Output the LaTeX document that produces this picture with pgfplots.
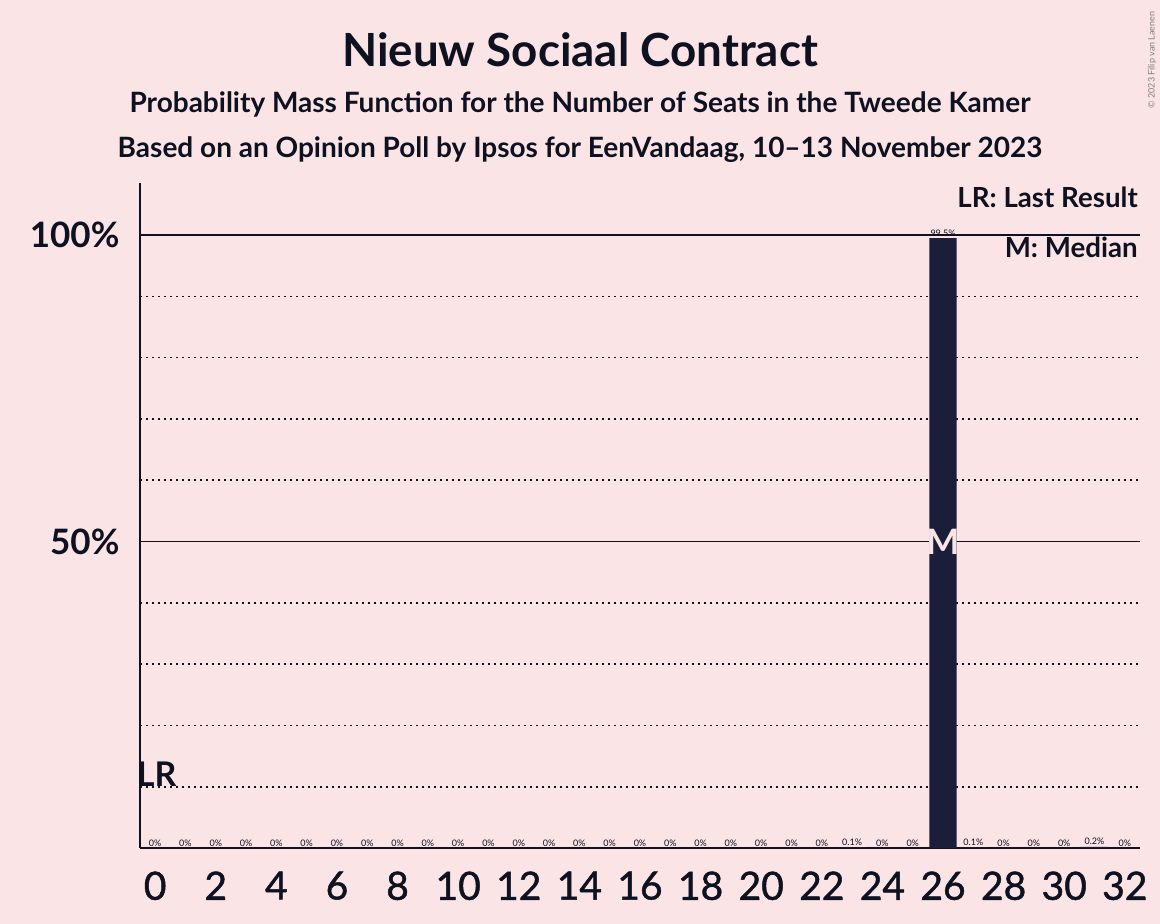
\documentclass[border=0pt]{standalone}
\usepackage{fontspec}
\setmainfont{Lato}
\newfontfamily\latomed[FakeBold=1.2]{Lato}
\usepackage{pgfplots}
\pgfplotsset{compat=1.18}
\usepackage{pgfplotstable}
\definecolor{bg}{RGB}{251,228,230}
\definecolor{barc}{RGB}{26,30,56}
\definecolor{txt}{RGB}{14,17,32}
\pgfplotstableread{
x y lab
0 0 0
1 0 0
2 0 0
3 0 0
4 0 0
5 0 0
6 0 0
7 0 0
8 0 0
9 0 0
10 0 0
11 0 0
12 0 0
13 0 0
14 0 0
15 0 0
16 0 0
17 0 0
18 0 0
19 0 0
20 0 0
21 0 0
22 0 0
23 0.1 0.1
24 0 0
25 0 0
26 99.5 99.5
27 0.1 0.1
28 0 0
29 0 0
30 0 0
31 0.2 0.2
32 0 0
}\pmf
\begin{document}
\begin{tikzpicture}[x=1pt,y=1pt]
\fill[bg] (0,0) rectangle (1160,924);
\useasboundingbox (0,0) rectangle (1160,924);
\begin{axis}[
  at={(140pt,76pt)}, anchor=south west,
  scale only axis, width=1000pt, height=665pt,
  xmin=-0.5, xmax=32.5, ymin=0, ymax=108.5,
  axis x line=bottom, axis y line=left,
  axis line style={-, line width=1.8pt, color=txt},
  xtick={0,2,...,32},
  ytick={50,100}, yticklabels={50\%,100\%},
  minor ytick={10,20,30,40,60,70,80,90},
  ymajorgrids, yminorgrids,
  major grid style={solid, line width=1.8pt, color=txt},
  minor grid style={line width=1.6pt, color=txt, dash pattern=on 1.6pt off 4.4pt},
  major tick length=0pt, minor tick length=0pt,
  /pgf/number format/assume math mode=true,
  xticklabel style={font=\fontsize{39}{42}\latomed, text=txt, yshift=-20pt},
  yticklabel style={font=\fontsize{35}{38}\selectfont\bfseries, text=txt, xshift=-17pt},
  ybar, bar width=0.9,
  nodes near coords={\pgfplotspointmeta\%},
  point meta=explicit symbolic,
  every node near coord/.append style={font=\fontsize{9}{10}\selectfont, text=txt, inner sep=1.5pt},
  clip=false,
]
\addplot[fill=barc, draw=none] table[x=x, y=y, meta=lab] {\pmf};
\node[font=\fontsize{35}{38}\selectfont\bfseries, text=bg] at (axis cs:26,50) {M};
\node[font=\fontsize{34}{37}\selectfont\bfseries, text=txt, anchor=base, inner sep=0pt] at (axis cs:0.05,10) {LR};
\end{axis}
\node[font=\fontsize{45.7}{50}\selectfont\bfseries, text=txt, anchor=base] at (580,857) {Nieuw Sociaal Contract};
\node[font=\fontsize{28}{31}\selectfont\bfseries, text=txt, anchor=base] at (580,811) {Probability Mass Function for the Number of Seats in the Tweede Kamer};
\node[font=\fontsize{28}{31}\selectfont\bfseries, text=txt, anchor=base] at (580,766) {Based on an Opinion Poll by Ipsos for EenVandaag, 10–13 November 2023};
\node[font=\fontsize{27.7}{30}\selectfont\bfseries, text=txt, anchor=base east, inner sep=0pt] at (1138,716) {LR: Last Result};
\node[font=\fontsize{27.7}{30}\selectfont\bfseries, text=txt, anchor=base east, inner sep=0pt] at (1138,666) {M: Median};
\node[font=\fontsize{9}{10}\selectfont, text=gray, rotate=90, anchor=center] at (1152,864) {© 2023 Filip van Laenen};
\end{tikzpicture}
\end{document}
